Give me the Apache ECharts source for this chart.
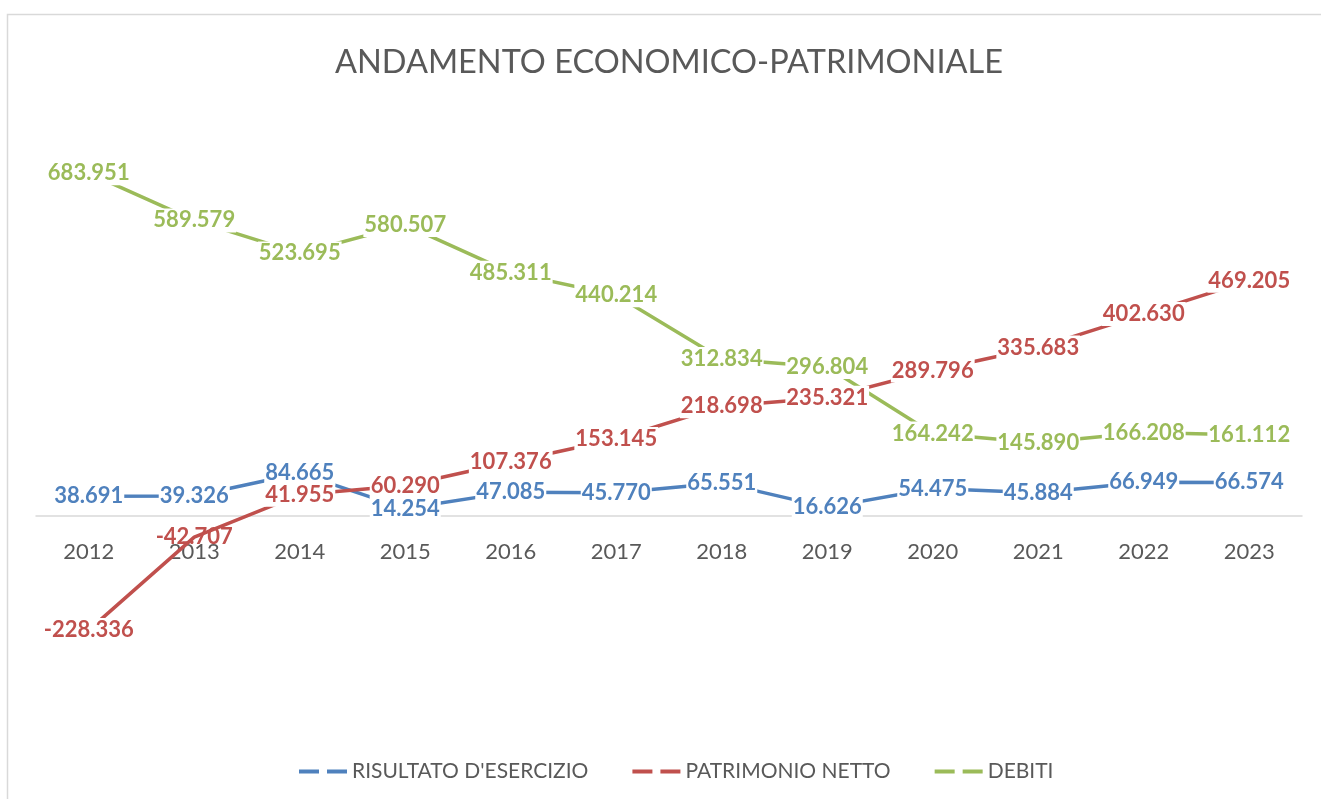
<!DOCTYPE html>
<html>
<head>
<meta charset="utf-8">
<title>Andamento economico-patrimoniale</title>
<script src="https://cdn.jsdelivr.net/npm/echarts@6/dist/echarts.min.js"></script>
<style>
  html, body { margin: 0; padding: 0; background: #fff; }
  #chart { width: 1321px; height: 799px; }
</style>
</head>
<body>
<div id="chart"></div>
<script>
// dati (valori in unità, etichette in migliaia con punto)
const years = ['2012', '2013', '2014', '2015', '2016', '2017', '2018', '2019', '2020', '2021', '2022', '2023'];
const risultato = [38691, 39326, 84665, 14254, 47085, 45770, 65551, 16626, 54475, 45884, 66949, 66574];
const patrimonio = [-228336, -42707, 41955, 60290, 107376, 153145, 218698, 235321, 289796, 335683, 402630, 469205];
const debiti = [683951, 589579, 523695, 580507, 485311, 440214, 312834, 296804, 164242, 145890, 166208, 161112];

const seriesNames = ["RISULTATO D'ESERCIZIO", 'PATRIMONIO NETTO', 'DEBITI'];
const colors = ['#4f81bd', '#c0504d', '#9bbb59'];

// 38691 -> "38.691"
function fmt(v) {
    let s = Math.abs(v).toString().replace(/\B(?=(\d{3})+(?!\d))/g, '.');
    return (v < 0 ? '-' : '') + s;
}

// le etichette che cadono sulle etichette dell'asse x restano senza sfondo
function nearAxisLabels(v) {
    return v < -20000 && v > -120000;
}

function makeSeries(name, data, color) {
    return {
        name: name,
        type: 'line',
        data: data.map(v => nearAxisLabels(v)
            ? { value: v, label: { backgroundColor: 'transparent' } }
            : v),
        symbol: 'circle',
        symbolSize: 0,
        lineStyle: { color: color, width: 3.5 },
        itemStyle: { color: color },
        label: {
            show: true,
            position: 'inside',
            color: color,
            fontFamily: 'Lato',
            fontWeight: 'bold',
            fontSize: 22,
            backgroundColor: '#fff',
            padding: [1, 1],
            formatter: p => fmt(p.value)
        },
        emphasis: { disabled: true },
        animation: false
    };
}

const chart = echarts.init(document.getElementById('chart'));

// grid: top 115, bottom edge 666 -> y=0 at ~515.5
const gridTop = 115, gridBottom = 133;

const option = {
    backgroundColor: '#fff',
    color: colors,
    title: {
        text: 'ANDAMENTO ECONOMICO-PATRIMONIALE',
        left: 330,
        top: 41,
        textStyle: { fontFamily: 'Lato', fontWeight: 'normal', fontSize: 32.5, color: '#595959' }
    },
    legend: {
        data: seriesNames,
        top: 756,
        left: 294,
        icon: 'path://M0,0 h20 v4 h-20 z M28,0 h20 v4 h-20 z',
        itemWidth: 48,
        itemHeight: 4,
        itemGap: 44,
        textStyle: { fontFamily: 'Lato', fontSize: 21, color: '#595959' }
    },
    grid: { left: 36, right: 19, top: gridTop, bottom: gridBottom, containLabel: false },
    xAxis: {
        type: 'category',
        data: years,
        offset: -150.5,
        axisLine: { onZero: false, lineStyle: { color: '#d9d9d9', width: 1.5 } },
        axisTick: { show: false },
        axisLabel: { margin: 25, fontFamily: 'Lato', fontSize: 22, color: '#595959' }
    },
    yAxis: {
        type: 'value',
        min: -300000,
        max: 800000,
        show: false,
        splitLine: { show: false }
    },
    graphic: [{
        type: 'rect',
        silent: true,
        shape: { x: 7.5, y: 14.5, width: 1400, height: 900 },
        style: { fill: 'none', stroke: '#d9d9d9', lineWidth: 1.5 }
    }],
    series: [
        makeSeries(seriesNames[0], risultato, colors[0]),
        makeSeries(seriesNames[1], patrimonio, colors[1]),
        makeSeries(seriesNames[2], debiti, colors[2])
    ]
};

chart.setOption(option);
</script>
</body>
</html>
